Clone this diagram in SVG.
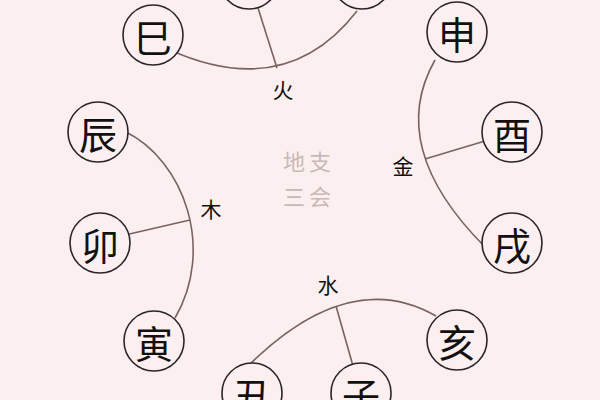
<svg xmlns="http://www.w3.org/2000/svg" width="600" height="400" viewBox="0 0 600 400">
<style>
.bg{fill:#fcefef}
.node circle{fill:#fcefef;stroke:#2b2626;stroke-width:1.6}
.node text{font-family:"Noto Sans CJK SC","Noto Sans CJK TC",sans-serif;font-size:38px;fill:#111;text-anchor:middle;dominant-baseline:central}
.conn path,.conn line{fill:none;stroke:#7a6262;stroke-width:1.6}
.lbl{font-family:"Noto Sans CJK SC",sans-serif;font-size:21px;fill:#111;text-anchor:middle;dominant-baseline:central}
.title{font-family:"Noto Sans CJK SC",sans-serif;font-size:22px;fill:#c8b8b6;text-anchor:middle;letter-spacing:4px}
</style>
<rect class="bg" x="0" y="0" width="600" height="400"/>
<g id="connectors" class="conn">
<path d="M170,50 Q286.5,102 357,11"/>
<line x1="258" y1="8" x2="277" y2="68"/>
<path d="M435,60 Q385.5,147 485,247"/>
<line x1="425" y1="159" x2="485" y2="141"/>
<path d="M124,131 C185,160 215,250 175,318"/>
<line x1="125" y1="235" x2="190" y2="220"/>
<path d="M248,366 Q349,266 436,316"/>
<line x1="336" y1="306" x2="353" y2="366"/>
</g>
<g id="labels">
<text class="lbl" x="283" y="89">火</text>
<text class="lbl" x="403" y="165">金</text>
<text class="lbl" x="211" y="208">木</text>
<text class="lbl" x="328" y="284">水</text>
</g>
<g id="title">
<text class="title" x="309" y="170">地支</text>
<text class="title" x="309" y="205">三会</text>
</g>
<g id="si" class="node"><circle cx="153" cy="35" r="30"/><text x="153" y="35">巳</text></g>
<g id="wu" class="node"><circle cx="249" cy="-21" r="30"/><text x="249" y="-21">午</text></g>
<g id="wei" class="node"><circle cx="362" cy="-21" r="30"/><text x="362" y="-21">未</text></g>
<g id="shen" class="node"><circle cx="457" cy="32" r="30"/><text x="457" y="32">申</text></g>
<g id="you" class="node"><circle cx="512" cy="132" r="30"/><text x="512" y="132">酉</text></g>
<g id="xu" class="node"><circle cx="512" cy="243" r="30"/><text x="512" y="243">戌</text></g>
<g id="hai" class="node"><circle cx="457" cy="340" r="30"/><text x="457" y="340">亥</text></g>
<g id="zi" class="node"><circle cx="361" cy="393" r="30"/><text x="361" y="393">子</text></g>
<g id="chou" class="node"><circle cx="252" cy="393" r="30"/><text x="252" y="393">丑</text></g>
<g id="yin" class="node"><circle cx="154" cy="341" r="30"/><text x="154" y="341">寅</text></g>
<g id="mao" class="node"><circle cx="100" cy="243" r="30"/><text x="100" y="243">卯</text></g>
<g id="chen" class="node"><circle cx="98" cy="132" r="30"/><text x="98" y="132">辰</text></g>
</svg>
